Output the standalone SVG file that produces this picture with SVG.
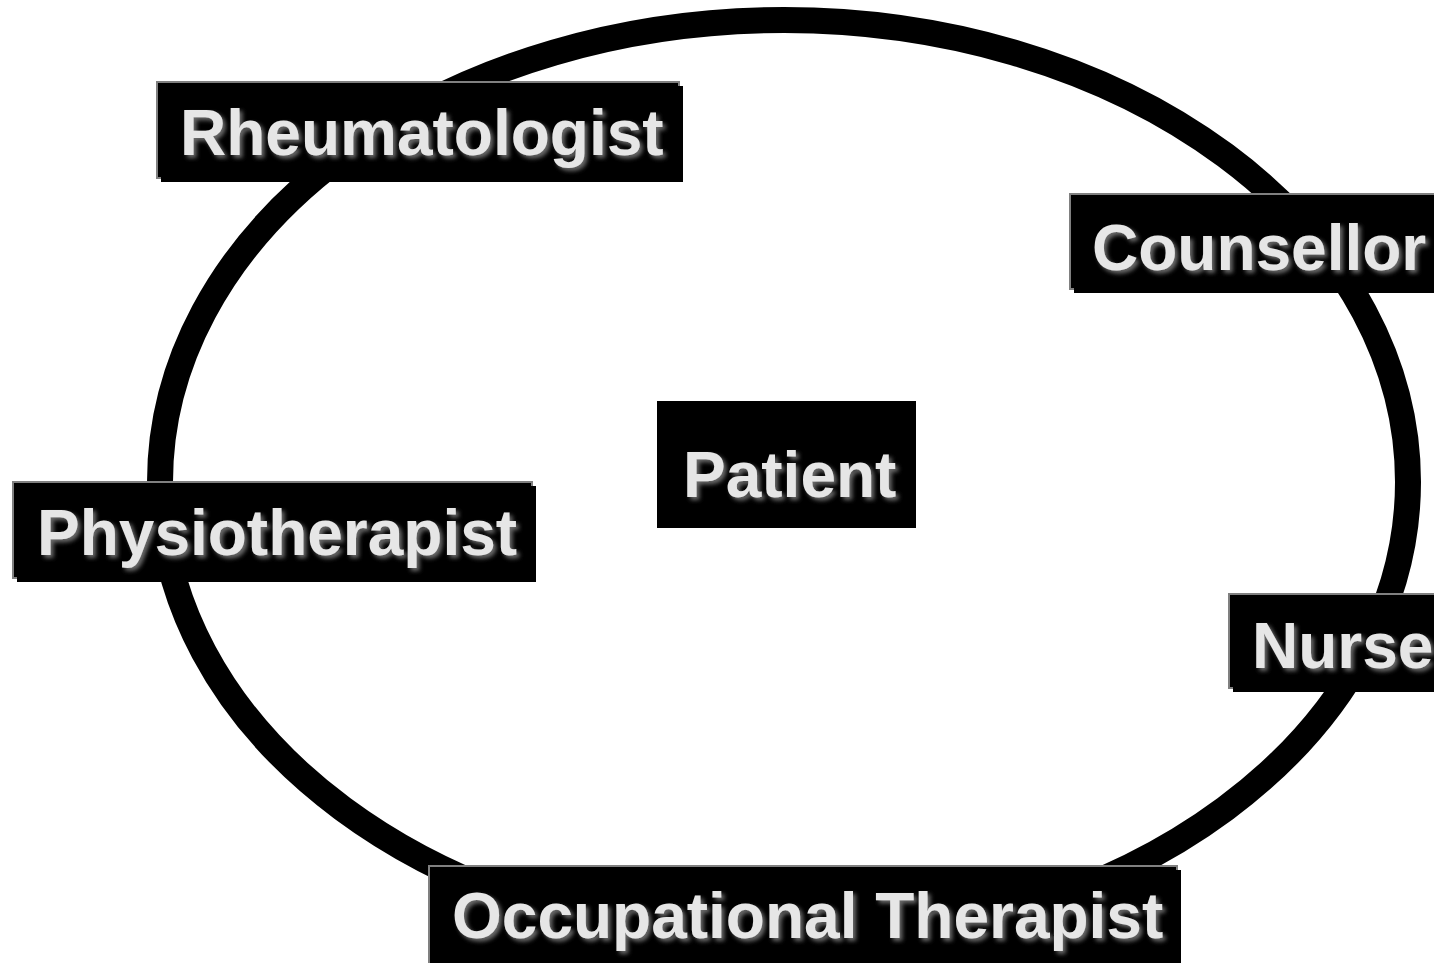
<svg xmlns="http://www.w3.org/2000/svg" width="1434" height="963" viewBox="0 0 1434 963">
  <defs>
    <filter id="txtShadow" x="-10%" y="-30%" width="120%" height="160%">
      <feGaussianBlur in="SourceAlpha" stdDeviation="2.2" result="b"/>
      <feOffset in="b" dx="3" dy="3" result="o"/>
      <feFlood flood-color="#6a6a6a"/>
      <feComposite in2="o" operator="in" result="s"/>
      <feMerge>
        <feMergeNode in="s"/>
        <feMergeNode in="SourceGraphic"/>
      </feMerge>
    </filter>
  </defs>
  <style>
    .ring { fill: none; stroke: #000; stroke-width: 26; }
    .edge { fill: #000; stroke: #808080; stroke-width: 2; }
    .drop { fill: #000; }
    .plain { fill: #000; }
    .lbl { font-family: "Liberation Sans", Arial, sans-serif; font-weight: bold; font-size: 64px; fill: #e6e6e6; filter: url(#txtShadow); }
  </style>
  <rect width="1434" height="963" fill="#fff"/>

  <g id="connectors">
    <ellipse class="ring" cx="784" cy="482" rx="624" ry="462"/>
  </g>

  <g id="rheumatologist">
    <rect class="edge" x="157" y="82" width="522" height="96"/>
    <rect class="drop" x="161" y="86" width="522" height="96"/>
    <text class="lbl" x="180" y="155">Rheumatologist</text>
  </g>

  <g id="counsellor">
    <rect class="edge" x="1070" y="194" width="380" height="95"/>
    <rect class="drop" x="1074" y="198" width="380" height="95"/>
    <text class="lbl" x="1092" y="270">Counsellor</text>
  </g>

  <g id="patient">
    <rect class="plain" x="657" y="401" width="259" height="127"/>
    <text class="lbl" x="683" y="497">Patient</text>
  </g>

  <g id="physiotherapist">
    <rect class="edge" x="13" y="482" width="519" height="96"/>
    <rect class="drop" x="17" y="486" width="519" height="96"/>
    <text class="lbl" x="37" y="555">Physiotherapist</text>
  </g>

  <g id="nurse">
    <rect class="edge" x="1229" y="594" width="220" height="94"/>
    <rect class="drop" x="1233" y="598" width="220" height="94"/>
    <text class="lbl" x="1252" y="668">Nurse</text>
  </g>

  <g id="occupational-therapist">
    <rect class="edge" x="429" y="866" width="748" height="100"/>
    <rect class="drop" x="433" y="870" width="748" height="100"/>
    <text class="lbl" x="452" y="938">Occupational Therapist</text>
  </g>
</svg>
